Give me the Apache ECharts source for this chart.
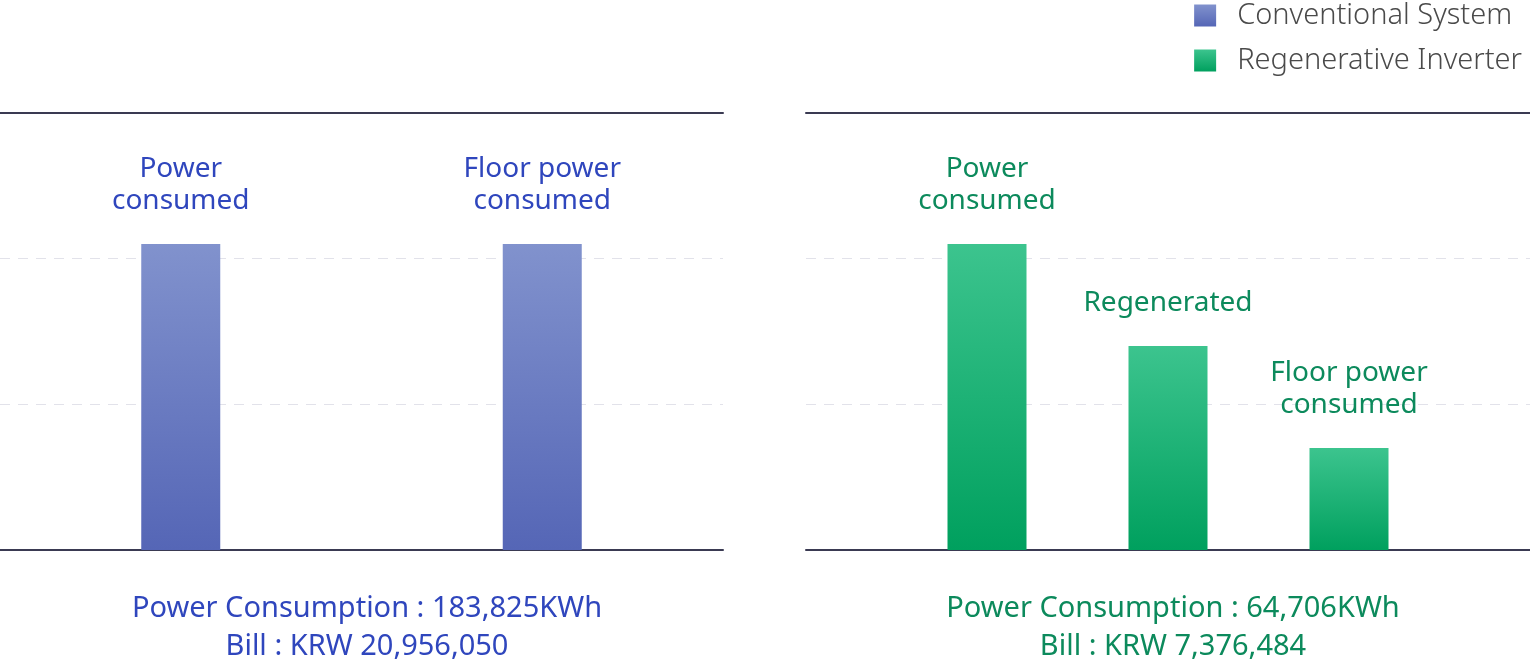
<!DOCTYPE html>
<html>
<head>
<meta charset="utf-8">
<style>html,body{margin:0;padding:0;background:#fff;}#c{width:1530px;height:664px;}</style>
<script src="https://cdn.jsdelivr.net/npm/echarts@6/dist/echarts.min.js"></script>
</head>
<body>
<div id="c"></div>
<script>
// Shared step slots (blank ends keep the layout)
const categories = ['', 'Power\nconsumed', 'Regenerated', 'Floor power\nconsumed', ''];
const conventionalValues = [null, 2.1, null, 2.1, null];
const regenerativeValues = [null, 2.1, 1.4, 0.7, null];
const seriesNames = ['Conventional System', 'Regenerative Inverter'];
const conventionalSummary = ['Power Consumption : 183,825KWh', 'Bill : KRW 20,956,050'];
const regenerativeSummary = ['Power Consumption : 64,706KWh', 'Bill : KRW 7,376,484'];
const yMin = 0, yMax = 3, yInterval = 1;

const FONT = '"Noto Sans", "Open Sans", sans-serif';
const blue = '#2f46bd', green = '#0c8a5c';
const lineColor = '#3a3a52';

function grad(top, bottom) {
  return new echarts.graphic.LinearGradient(0, 0, 0, 1, [
    { offset: 0, color: top }, { offset: 1, color: bottom }
  ]);
}
const blueGrad = grad('#8192cd', '#5566b6');
const greenGrad = grad('#3cc48e', '#00a05e');

function xAx(gridIndex, pos) {
  return {
    type: 'category', gridIndex: gridIndex, position: pos, data: categories,
    boundaryGap: false,
    axisLine: { show: true, lineStyle: { color: lineColor, width: 2 } },
    axisTick: { show: false }, axisLabel: { show: false }, splitLine: { show: false }
  };
}
function yAx(gridIndex) {
  return {
    type: 'value', gridIndex: gridIndex, min: yMin, max: yMax, interval: yInterval,
    axisLine: { show: false }, axisTick: { show: false }, axisLabel: { show: false },
    splitLine: { show: true, lineStyle: { color: '#e2e2ea', width: 1, type: [10, 8] } }
  };
}
function barSeries(name, values, xi, yi, color, labelColor) {
  return {
    name: name, type: 'bar', xAxisIndex: xi, yAxisIndex: yi, data: values,
    barWidth: 79, itemStyle: { color: color },
    label: {
      show: true, position: 'top', distance: 27,
      formatter: p => categories[p.dataIndex],
      color: labelColor, fontFamily: FONT, fontSize: 28, lineHeight: 32, align: 'center'
    }
  };
}

const chart = echarts.init(document.getElementById('c'), null, { renderer: 'canvas' });
chart.setOption({
  animation: false,
  backgroundColor: '#fff',
  grid: [
    { left: 0, width: 723, top: 113, bottom: 114 },
    { left: 806, right: 0, top: 113, bottom: 114 }
  ],
  xAxis: [xAx(0, 'bottom'), xAx(1, 'bottom'), xAx(0, 'top'), xAx(1, 'top')],
  yAxis: [yAx(0), yAx(1)],
  legend: {
    orient: 'vertical', right: 3, top: -4, itemWidth: 22, itemHeight: 22, itemGap: 16,
    icon: 'rect', data: seriesNames,
    textStyle: { fontFamily: FONT, fontSize: 29, color: '#4a4a4a', fontWeight: 300, padding: [0, 0, 0, 16] }
  },
  title: [
    {
      text: conventionalSummary.join('\n'), left: 362, top: 585, textAlign: 'center',
      textStyle: { fontFamily: FONT, fontSize: 29, fontWeight: 'normal', color: blue, lineHeight: 38 }
    },
    {
      text: regenerativeSummary.join('\n'), left: 1168, top: 585, textAlign: 'center',
      textStyle: { fontFamily: FONT, fontSize: 29, fontWeight: 'normal', color: green, lineHeight: 38 }
    }
  ],
  series: [
    barSeries(seriesNames[0], conventionalValues, 0, 0, blueGrad, blue),
    barSeries(seriesNames[1], regenerativeValues, 1, 1, greenGrad, green)
  ]
});
</script>
</body>
</html>
